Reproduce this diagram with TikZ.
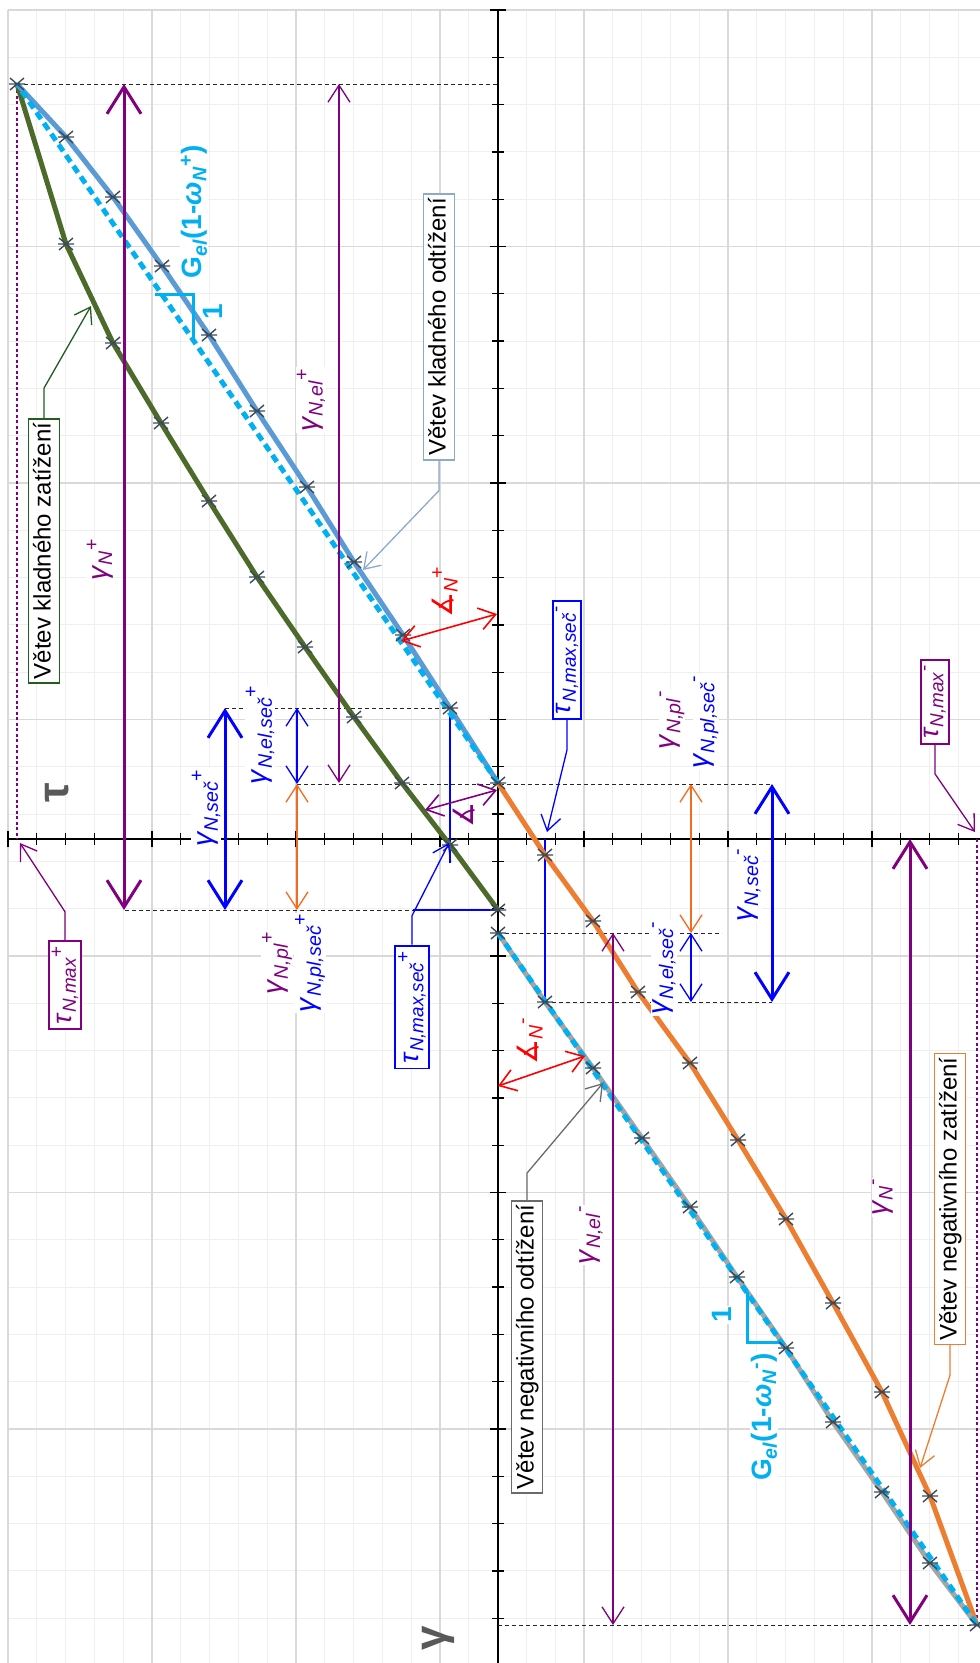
\documentclass[tikz,border=0pt]{standalone}
\usepackage{fontspec}
\setmainfont{Liberation Sans}
\newfontfamily\anglefont{DejaVu Sans}
\usetikzlibrary{arrows.meta}

\definecolor{gridminor}{HTML}{EFEFEF}
\definecolor{gridmajor}{HTML}{D9D9D9}
\definecolor{kzgreen}{HTML}{4C6B2B}
\definecolor{kzbox}{HTML}{1F5E1F}
\definecolor{kolblue}{HTML}{5B9BD5}
\definecolor{kobox}{HTML}{8EA9CA}
\definecolor{slopecyan}{HTML}{00B0F0}
\definecolor{nzorange}{HTML}{ED7D31}
\definecolor{nogray}{HTML}{A5A5A5}
\definecolor{nobox}{HTML}{6B6B6B}
\definecolor{vpurple}{HTML}{800080}
\definecolor{vblue}{HTML}{0000FF}
\definecolor{vred}{HTML}{FF0000}
\definecolor{plorange}{HTML}{F46A1F}
\definecolor{markgray}{HTML}{3E4A57}
\definecolor{axisgray}{HTML}{595959}

\newcommand{\gN}[2]{\textit{γ}\textsubscript{\textit{#1}}\textsuperscript{#2}}
\newcommand{\tN}[2]{\textit{τ}\textsubscript{\textit{#1}}\textsuperscript{#2}}
\newcommand{\angN}[1]{{\anglefont ∡}\textsubscript{\textit{N}}\textsuperscript{#1}}

\tikzset{
  minorgrid/.style={gridminor, line width=1pt},
  majorgrid/.style={gridmajor, line width=1.3pt},
  axisline/.style={black, line width=1.6pt},
  helpdash/.style={black!85, line width=0.9pt, dash pattern=on 4pt off 3pt},
  maxdot/.style={vpurple, line width=1.6pt, dash pattern=on 3pt off 2.5pt},
  branch/.style={line width=5pt, line join=round},
  slopeline/.style={slopecyan, line width=5pt, dash pattern=on 8pt off 5pt},
  slopetri/.style={slopecyan, line width=3pt},
  dimthick/.style={line width=3pt, {Straight Barb[length=27pt,width=34pt]}-{Straight Barb[length=27pt,width=34pt]}},
  dimthin/.style={line width=1.3pt, {Straight Barb[length=17pt,width=22pt]}-{Straight Barb[length=17pt,width=22pt]}},
  anglearr/.style={line width=1.6pt, {Straight Barb[length=16pt,width=22pt]}-{Straight Barb[length=16pt,width=22pt]}},
  callout/.style={line width=1.3pt, -{Straight Barb[length=15pt,width=20pt]}},
  branchbox/.style={rotate=90, draw, line width=1.6pt, fill=white, text=black, font=\fontsize{24}{26}\selectfont, inner xsep=4pt, inner ysep=4pt, text height=18pt, text depth=5pt},
  valbox/.style={rotate=90, draw, line width=1.8pt, fill=white, font=\fontsize{27}{29}\selectfont, inner xsep=5pt, inner ysep=3pt},
  vlabel/.style={rotate=90, fill=white, inner sep=1pt, font=\fontsize{28}{30}\selectfont},
  slopelabel/.style={rotate=90, fill=white, inner sep=1pt, text=slopecyan, font=\bfseries\fontsize{28}{30}\selectfont},
  axislabel/.style={rotate=90, text=axisgray, font=\bfseries\fontsize{44}{46}\selectfont},
  xmark/.pic={\draw[markgray, line width=1.4pt] (-7,-6) -- (7,6) (-7,6) -- (7,-6) (-8,0) -- (8,0);}
}

\begin{document}
\begin{tikzpicture}[x=1pt,y=-1pt]
\useasboundingbox (0,0) rectangle (980,1663);
\fill[white] (0,0) rectangle (980,1663);

% grid
\foreach \k in {0,...,34} \draw[minorgrid] ({8+28.8*\k},10) -- ({8+28.8*\k},1663);
\foreach \k in {0,...,35} \draw[minorgrid] (8,{10+47.3*\k}) -- (980,{10+47.3*\k});
\foreach \k in {0,5,...,30} \draw[majorgrid] ({8+28.8*\k},10) -- ({8+28.8*\k},1663);
\foreach \k in {0,5,...,35} \draw[majorgrid] (8,{10+47.3*\k}) -- (980,{10+47.3*\k});

% axes
\draw[axisline] (498,10) -- (498,1663);
\draw[axisline] (8,839) -- (980,839);
\foreach \k in {0,...,35} \draw[axisline, line width=1.3pt] (492,{10+47.3*\k}) -- (504,{10+47.3*\k});
\foreach \k in {0,5,...,35} \draw[axisline] (490,{10+47.3*\k}) -- (506,{10+47.3*\k});
\foreach \k in {0,...,33} \draw[axisline, line width=1.3pt] ({8+28.8*\k},833) -- ({8+28.8*\k},845);
\foreach \k in {0,5,...,30} \draw[axisline] ({8+28.8*\k},831) -- ({8+28.8*\k},847);

\coordinate (ptop) at (17,84);
\coordinate (nbot) at (977,1625);
\coordinate (pun) at (498,783);
\coordinate (pld) at (498,910);
\coordinate (nun) at (498,933);
\coordinate (psec) at (450,708);
\coordinate (nsec) at (545,1002);

% helper lines
\draw[helpdash] (ptop) -- (498,84);
\draw[helpdash] (225,708) -- (psec);
\draw[helpdash] (297,784) -- (772,784);
\draw[helpdash] (125,910) -- (pld);
\draw[helpdash] (nun) -- (722,933);
\draw[helpdash] (nsec) -- (772,1002);
\draw[helpdash] (498,1625) -- (nbot);
\draw[maxdot] (17,90) -- (17,839);
\draw[maxdot] (977,839) -- (977,1620);
\draw[vblue, line width=1.2pt] (psec) -- (450,863);
\draw[vblue, line width=1.2pt] (413,910) -- (pld);
\draw[vblue, line width=1.2pt] (545,839) -- (nsec);

% branches
\draw[branch, kzgreen] plot coordinates {(498,910) (450,845) (402,783) (354,717) (305,647) (257,577) (209,501) (161,423) (113,343) (66,244) (17,84)};
\draw[branch, kolblue] plot coordinates {(498,783) (450,708) (403,635) (354,562) (307,487) (257,411) (209,335) (162,266) (113,197) (66,137) (17,84)};
\draw[branch, nzorange] plot coordinates {(498,783) (545,855) (593,921) (638,992) (690,1063) (738,1140) (786,1219) (833,1303) (882,1392) (930,1496) (977,1625)};
\draw[branch, nogray] plot coordinates {(498,933) (545,1002) (593,1068) (642,1138) (690,1207) (737,1277) (786,1348) (833,1422) (882,1492) (930,1563) (977,1625)};

% secant stiffness
\draw[slopeline] (pun) -- (ptop);
\draw[slopeline] (nun) -- (nbot);
\draw[slopetri] (155,294) -- (193,294) -- (193,343);
\draw[slopetri] (747,1292) -- (747,1342) -- (782,1342);

\foreach \p in {(498,910),(450,845),(402,783),(354,717),(305,647),(257,577),(209,501),(161,423),(113,343),(66,244),(17,84),
  (450,708),(403,635),(354,562),(307,487),(257,411),(209,335),(162,266),(113,197),(66,137),
  (498,783),(545,855),(593,921),(638,992),(690,1063),(738,1140),(786,1219),(833,1303),(882,1392),(930,1496),(977,1625),
  (498,933),(545,1002),(593,1068),(642,1138),(690,1207),(737,1277),(786,1348),(833,1422),(882,1492),(930,1563)}
  \pic at \p {xmark};

% dimensions
\draw[dimthick, vpurple] (124,84) -- (124,910);
\draw[dimthin, vpurple] (339,84) -- (339,783);
\draw[dimthick, vblue] (225,708) -- (225,910);
\draw[dimthin, vblue] (297,708) -- (297,784);
\draw[dimthin, plorange] (297,784) -- (297,910);
\draw[dimthick, vpurple] (910,839) -- (910,1625);
\draw[dimthin, vpurple] (613,933) -- (613,1625);
\draw[dimthick, vblue] (772,784) -- (772,1002);
\draw[dimthin, vblue] (691,933) -- (691,1002);
\draw[dimthin, plorange] (691,784) -- (691,933);
\draw[anglearr, vred] (401,641) -- (497,614);
\draw[anglearr, vred] (498,1086) -- (585,1056);
\draw[anglearr, vpurple] (425,810) -- (497,790);

% labels
\node[vlabel, text=vpurple] (lgp) at (100,560) {\gN{N}{+}};
\node[vlabel, text=vpurple] (lgelp) at (311,400) {\gN{N,el}{+}};
\node[vlabel, text=vblue] (lgsp) at (206,808) {\gN{N,seč}{+}};
\node[vlabel, text=vblue] (lgelsp) at (260,735) {\gN{N,el,seč}{+}};
\node[vlabel, text=vpurple] (lgplp) at (277,963) {\gN{N,pl}{+}};
\node[vlabel, text=vblue] (lgplsp) at (310,963) {\gN{N,pl,seč}{+}};
\node[vlabel, text=vpurple] (lgplm) at (672,720) {\gN{N,pl}{-}};
\node[vlabel, text=vblue] (lgplsm) at (706,722) {\gN{N,pl,seč}{-}};
\node[vlabel, text=vblue] (lgelsm) at (664,968) {\gN{N,el,seč}{-}};
\node[vlabel, text=vblue] (lgsm) at (749,885) {\gN{N,seč}{-}};
\node[vlabel, text=vpurple] (lgm) at (883,1197) {\gN{N}{-}};
\node[vlabel, text=vpurple] (lgelm) at (591,1235) {\gN{N,el}{-}};
\node[vlabel, text=vred, fill=none] (langp) at (445,592) {\angN{+}};
\node[vlabel, text=vred, fill=none] (langm) at (530,1041) {\angN{-}};
\node[vlabel, text=vpurple, fill=none] (lang) at (464,815) {{\anglefont ∡}};
\node[slopelabel] (lslp) at (194,212) {G\textsubscript{\textit{el}}(1-\textit{ω}\textsubscript{\textit{N}}\textsuperscript{+})};
\node[slopelabel] (lonep) at (213,312) {1};
\node[slopelabel] (lslm) at (764,1417) {G\textsubscript{\textit{el}}(1-\textit{ω}\textsubscript{\textit{N}}\textsuperscript{-})};
\node[slopelabel] (lonem) at (722,1315) {1};
\node[axislabel] (ltau) at (57,793) {τ};
\node[axislabel] (lgam) at (438,1638) {γ};

% branch boxes with callouts
\node[branchbox, draw=kzbox] (kz) at (44,551) {Větev kladného zatížení};
\node[branchbox, draw=kobox] (ko) at (439,327) {Větev kladného odtížení};
\node[branchbox, draw=nobox] (no) at (527,1347) {Větev negativního odtížení};
\node[branchbox, draw=nzorange] (nz) at (950,1199) {Větev negativního zatížení};
\node[valbox, draw=vpurple, text=vpurple] (tmp) at (65,985) {\tN{N,max}{+}};
\node[valbox, draw=vpurple, text=vpurple] (tmm) at (935,702) {\tN{N,max}{-}};
\node[valbox, draw=vblue, text=vblue] (tsp) at (412,1007) {\tN{N,max,seč}{+}};
\node[valbox, draw=vblue, text=vblue] (tsm) at (567,660) {\tN{N,max,seč}{-}};

\coordinate (kzTip) at (91,306);
\coordinate (koTip) at (363,570);
\coordinate (noTip) at (603,1083);
\coordinate (nzTip) at (920,1468);
\coordinate (tmpTip) at (20,843);
\coordinate (tmmTip) at (975,832);
\coordinate (tspTip) at (449,843);
\coordinate (tsmTip) at (547,832);

\draw[callout, kzbox] (kz.east) -- ++(0,-30) -- (kzTip);
\draw[callout, kobox] (ko.west) -- ++(0,30) -- (koTip);
\draw[callout, nobox] (no.east) -- ++(0,-27) -- (noTip);
\draw[callout, nzorange] (nz.west) -- ++(0,30) -- (nzTip);
\draw[callout, vpurple] (tmp.east) -- ++(0,-28) -- (tmpTip);
\draw[callout, vpurple] (tmm.west) -- ++(0,29) -- (tmmTip);
\draw[callout, vblue] (tsp.east) -- ++(0,-29) -- (tspTip);
\draw[callout, vblue] (tsm.west) -- ++(0,30) -- (tsmTip);
\end{tikzpicture}
\end{document}
